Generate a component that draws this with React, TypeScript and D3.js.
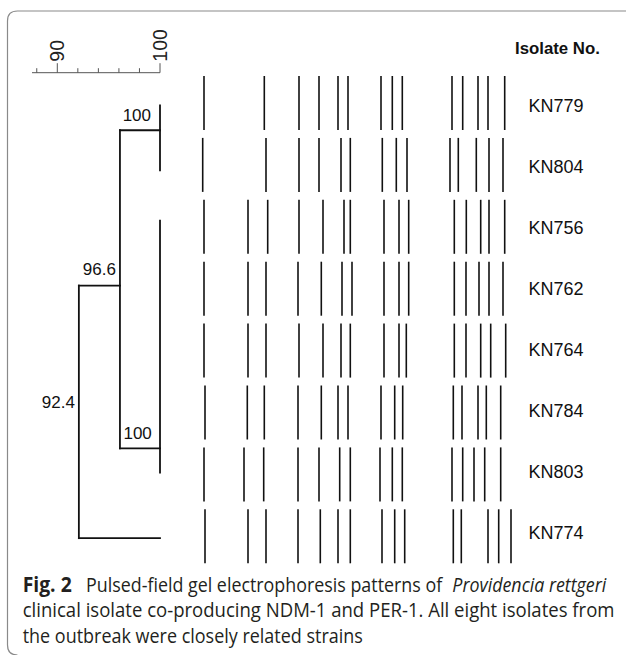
import React, { useLayoutEffect, useRef, useState } from "react";
import * as d3 from "d3";

const isolates = ["KN779", "KN804", "KN756", "KN762", "KN764", "KN784", "KN803", "KN774"];

// band migration positions per lane (gel units from lane start)
const bandsKN779 = [4, 64.3, 99, 119, 138, 148, 181, 192.3, 202.3, 252, 262.7, 278, 288, 304.7];
const bandsKN804 = [2.7, 66, 99, 119, 141, 150.3, 182.3, 196.3, 207, 250, 258.3, 276.3, 289, 303];
const bandsKN756 = [4, 48, 67.7, 99, 123, 144, 150.3, 184, 199, 208.7, 254.3, 266.3, 280.7, 289, 304.7];
const bandsKN762 = [4, 48, 66, 98, 121.3, 142, 152, 184, 199, 208.7, 254.3, 266, 279, 289, 303];
const bandsKN764 = [4, 48, 66, 99, 123, 141, 150.3, 184, 199, 206.3, 254.3, 266, 280.7, 290.7, 305.7];
const bandsKN784 = [5, 47.3, 64.3, 98, 121.3, 138, 148, 181, 194.7, 202.7, 253.3, 262, 278, 286.3, 300.7];
const bandsKN803 = [4, 44, 63.7, 98, 119, 139.7, 150.3, 180, 192.3, 202.3, 252, 262.7, 274, 284.7, 300.7];
const bandsKN774 = [5, 48, 66, 98, 120.3, 138, 150.3, 182, 194.7, 204.7, 253.3, 261.3, 288, 298.7, 311];
const laneBands = [bandsKN779, bandsKN804, bandsKN756, bandsKN762, bandsKN764, bandsKN784, bandsKN803, bandsKN774];

// similarity scale ticks
const scaleTicks = [88, 90, 92, 94, 96, 98, 100];
const scaleLabels = [90, 100];

// dendrogram: segments as [similarity1, row1, similarity2, row2]
const dendroSegments: [number, number, number, number][] = [
  [100, 0.04, 100, 1.09],
  [100, 1.9, 100, 5.97],
  [96.1, 0.44, 100, 0.44],
  [96.1, 5.58, 100, 5.58],
  [96.1, 0.44, 96.1, 5.58],
  [92.1, 2.95, 96.1, 2.95],
  [92.1, 2.95, 92.1, 7.03],
  [92.1, 7.03, 100, 7.03],
];
const nodeLabels = ["100", "96.6", "92.4", "100"];
const nodeLabelSim = [100, 96.1, 92.1, 96.1];
const nodeLabelRow = [0.44, 2.95, 4.92, 5.58];

const captionParts = [
  "Fig. 2",
  "Pulsed-field gel electrophoresis patterns of",
  "Providencia rettgeri",
  "clinical isolate co-producing NDM-1 and PER-1. All eight isolates from",
  "the outbreak were closely related strains",
];

export default function App() {
  const W = 626, H = 655;
  const sim = d3.scaleLinear().domain([90, 100]).range([57.3, 160]);
  const row = d3.scaleLinear().domain([0, 1]).range([103, 164.9]);
  const gel = d3.scaleLinear().domain([0, 315]).range([200, 515]);
  const bandHalf = 27;
  const axisY = 72.7;
  const arial = "'Liberation Sans', Arial, sans-serif";
  const captionFont = "'Open Sans', 'Noto Sans', sans-serif";
  const capSize = 20.5;

  const capLayout = [
    { x: 22.7, y: 591.7, w: 49, weight: "bold", style: "normal" },
    { x: 86, y: 591.7, w: 356, weight: "normal", style: "normal" },
    { x: 452.3, y: 591.7, w: 154, weight: "normal", style: "italic" },
    { x: 22.7, y: 617.4, w: 592, weight: "normal", style: "normal" },
    { x: 22.7, y: 643.2, w: 340, weight: "normal", style: "normal" },
  ];

  const refs = useRef<(SVGTextElement | null)[]>([]);
  const [sizes, setSizes] = useState<number[]>(captionParts.map(() => capSize));

  useLayoutEffect(() => {
    const measure = () => {
      const next = captionParts.map((_, i) => {
        const el = refs.current[i];
        if (!el) return capSize;
        const cur = parseFloat(el.getAttribute("font-size") || String(capSize));
        const len = el.getComputedTextLength();
        if (!len) return capSize;
        return Math.min(capSize, (cur * capLayout[i].w) / len);
      });
      setSizes((prev) => (prev.every((p, i) => Math.abs(p - next[i]) < 0.01) ? prev : next));
    };
    measure();
    if ((document as any).fonts && (document as any).fonts.ready) {
      (document as any).fonts.ready.then(measure);
    }
  });

  const nodeLabelProps = [
    { dx: -9, dy: -9.6, anchor: "end" },
    { dx: -4, dy: -10.7, anchor: "end" },
    { dx: -4, dy: 0, anchor: "end" },
    { dx: 3.5, dy: -9.3, anchor: "start" },
  ];

  return (
    <svg width={W} height={H} style={{ position: "absolute", left: 0, top: 0, background: "#fff" }}>
      <rect x={0} y={0} width={W} height={H} fill="#fff" />
      {/* frame */}
      <path d={`M ${W} 11 H 17.5 Q 7.5 11 7.5 21 V 645 Q 7.5 655 17.5 655`} fill="none" stroke="#8a8a8a" strokeWidth={1.2} />

      {/* similarity scale */}
      <line x1={32} x2={sim(100)} y1={axisY} y2={axisY} stroke="#555" strokeWidth={1} />
      {scaleTicks.map((t) => {
        const major = scaleLabels.includes(t);
        return (
          <line key={t} x1={sim(t)} x2={sim(t)} y1={axisY} y2={axisY - (major ? 9.5 : 4.5)} stroke="#555" strokeWidth={1} />
        );
      })}
      {scaleLabels.map((t) => (
        <text key={t} transform={`translate(${sim(t) + 7},${axisY - 11}) rotate(-90)`} fontFamily={arial} fontSize={19.5} fill="#222">
          {t}
        </text>
      ))}

      {/* dendrogram */}
      {dendroSegments.map((s, i) => (
        <line key={i} x1={sim(s[0])} y1={row(s[1])} x2={sim(s[2])} y2={row(s[3])} stroke="#111" strokeWidth={1.8} strokeLinecap="square" />
      ))}
      {nodeLabels.map((l, i) => (
        <text key={i} x={sim(nodeLabelSim[i]) + nodeLabelProps[i].dx} y={row(nodeLabelRow[i]) + nodeLabelProps[i].dy}
          textAnchor={nodeLabelProps[i].anchor as any} fontFamily={arial} fontSize={17} fill="#111">
          {l}
        </text>
      ))}

      {/* gel bands */}
      {laneBands.map((bands, r) => (
        <g key={r}>
          {bands.map((b, j) => (
            <line key={j} x1={gel(b)} x2={gel(b)} y1={row(r) - bandHalf} y2={row(r) + bandHalf} stroke="#111" strokeWidth={1.6} />
          ))}
        </g>
      ))}

      {/* isolate labels */}
      <text x={515} y={54.3} fontFamily={arial} fontWeight="bold" fontSize={16.8} fill="#111">Isolate No.</text>
      {isolates.map((name, r) => (
        <text key={name} x={528.5} y={112.3 + 61 * r} fontFamily={arial} fontSize={18} fill="#111">{name}</text>
      ))}

      {/* caption: font size fitted to width, height restored by vertical scale */}
      {captionParts.map((txt, i) => {
        const fs = sizes[i];
        const c = capLayout[i];
        return (
          <text
            key={i}
            ref={(el) => { refs.current[i] = el; }}
            transform={`translate(${c.x},${c.y}) scale(1,${capSize / fs})`}
            fontFamily={captionFont}
            fontSize={fs}
            fontWeight={c.weight}
            fontStyle={c.style}
            fill="#231f20"
          >
            {txt}
          </text>
        );
      })}
    </svg>
  );
}
